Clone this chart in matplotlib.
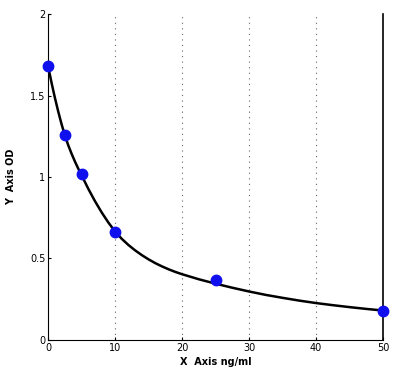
import matplotlib.pyplot as plt

# measured standards
conc = [0, 2.5, 5, 10, 25, 50]
od = [1.68, 1.26, 1.02, 0.66, 0.37, 0.18]

# fitted curve
fit_x = [0, 0.5, 1, 1.5, 2, 2.5, 3, 3.5, 4, 4.5, 5, 6, 7, 8, 9, 10, 11, 12, 13, 14, 15,
         16, 17, 18, 19, 20, 22.5, 25, 27.5, 30, 32.5, 35, 37.5, 40, 42.5, 45, 47.5, 50]
fit_y = [1.68, 1.58, 1.488, 1.403, 1.325, 1.255, 1.195, 1.143, 1.095, 1.051, 1.01,
         0.927, 0.851, 0.782, 0.72, 0.665, 0.62, 0.582, 0.549, 0.52, 0.494,
         0.471, 0.451, 0.433, 0.417, 0.403, 0.372, 0.345, 0.32, 0.297,
         0.276, 0.258, 0.241, 0.226, 0.213, 0.201, 0.19, 0.18]

xticks = [0, 10, 20, 30, 40, 50]
yticks = [0, 0.5, 1, 1.5, 2]
ytick_labels = ['0', '0.5', '1', '1.5', '2']

fig = plt.figure(figsize=(4.15, 3.92), dpi=100)
ax = fig.add_axes([0.116, 0.133, 0.807, 0.831])

for gx in [10, 20, 30, 40]:
    ax.axvline(gx, color='#666666', linestyle=(0, (1, 4)), linewidth=0.8, zorder=1)

ax.plot(fit_x, fit_y, color='black', linewidth=1.8, zorder=2)
ax.plot(conc, od, 'o', color='#1010ee', markersize=7.5, zorder=3, clip_on=False)

ax.set_xlim(0, 50)
ax.set_ylim(0, 2)
ax.set_xticks(xticks)
ax.set_yticks(yticks)
ax.set_yticklabels(ytick_labels)
ax.tick_params(labelsize=7, length=2, direction='in', pad=2)

ax.spines['top'].set_visible(False)
ax.spines['right'].set_linewidth(1.2)

ax.set_xlabel('X  Axis ng/ml', fontsize=7, fontweight='bold', labelpad=3)
ax.set_ylabel('Y  Axis OD', fontsize=7, fontweight='bold', labelpad=10)

fig.savefig('out.png', dpi=100)
